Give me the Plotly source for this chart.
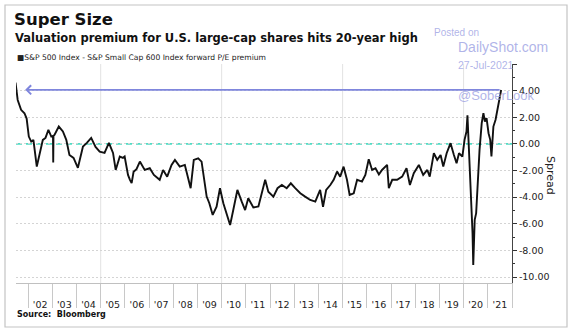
import pandas as pd
import plotly.graph_objects as go

# Forward P/E spread (S&P 500 minus S&P SmallCap 600), sampled as decimal years
t_year = [
    2001.48, 2001.57, 2001.71, 2001.85, 2001.94, 2002.03, 2002.13, 2002.22, 2002.36, 2002.47,
    2002.61, 2002.72, 2002.84, 2002.96, 2003.03, 2003.04, 2003.05, 2003.09, 2003.27, 2003.44,
    2003.58, 2003.71, 2003.88, 2004.06, 2004.16, 2004.27, 2004.43, 2004.61, 2004.79, 2004.96,
    2005.16, 2005.34, 2005.51, 2005.62, 2005.79, 2005.92, 2005.99, 2006.13, 2006.21, 2006.28,
    2006.36, 2006.48, 2006.62, 2006.82, 2007.03, 2007.20, 2007.44, 2007.58, 2007.75, 2007.93,
    2008.07, 2008.27, 2008.48, 2008.62, 2008.72, 2008.85, 2009.03, 2009.17, 2009.27, 2009.38,
    2009.49, 2009.63, 2009.79, 2009.93, 2010.07, 2010.21, 2010.35, 2010.48, 2010.65, 2010.83,
    2010.97, 2011.10, 2011.31, 2011.52, 2011.66, 2011.80, 2011.93, 2012.14, 2012.31, 2012.49,
    2012.69, 2012.86, 2013.04, 2013.25, 2013.45, 2013.66, 2013.87, 2014.07, 2014.19, 2014.32,
    2014.49, 2014.63, 2014.77, 2014.90, 2015.04, 2015.18, 2015.29, 2015.46, 2015.60, 2015.80,
    2015.94, 2016.08, 2016.22, 2016.36, 2016.50, 2016.63, 2016.84, 2016.91, 2017.05, 2017.25,
    2017.46, 2017.64, 2017.78, 2017.94, 2018.15, 2018.33, 2018.50, 2018.60, 2018.77, 2018.91,
    2019.05, 2019.16, 2019.30, 2019.46, 2019.60, 2019.71, 2019.81, 2019.95, 2020.04, 2020.12,
    2020.16, 2020.21, 2020.26, 2020.30, 2020.33, 2020.37, 2020.40, 2020.43, 2020.46, 2020.52,
    2020.58, 2020.66, 2020.75, 2020.82, 2020.88, 2020.95, 2021.03, 2021.10, 2021.15, 2021.23,
    2021.32, 2021.40, 2021.48, 2021.55,
]
spread = [
    4.60, 3.30, 2.56, 2.30, 1.90, 0.55, 0.17, 0.30, -1.70, -0.83,
    0.30, 0.45, 1.05, 0.55, 0.60, -1.40, 0.60, 0.68, 1.30, 0.93,
    0.30, -0.83, -1.05, -1.80, -0.95, -0.20, 0.07, 0.45, -0.23, -0.58,
    -0.68, 0.07, -0.68, -1.96, -0.95, -1.05, -0.95, -2.33, -2.70, -2.95,
    -2.10, -1.90, -1.33, -1.96, -1.83, -2.33, -2.70, -1.96, -2.46, -1.58,
    -1.20, -1.71, -1.58, -2.70, -3.33, -1.20, -1.08, -1.33, -2.46, -3.96,
    -4.46, -5.34, -4.72, -3.33, -4.46, -5.21, -6.09, -4.97, -3.46, -4.34,
    -4.97, -4.09, -4.78, -4.70, -3.71, -2.70, -3.59, -3.96, -3.33, -3.09,
    -3.33, -2.96, -3.33, -3.71, -3.96, -4.21, -4.34, -3.46, -4.72, -3.46,
    -3.09, -2.70, -2.08, -2.46, -1.71, -2.70, -3.84, -3.71, -2.70, -2.83,
    -2.33, -1.15, -1.96, -1.83, -2.30, -1.96, -1.58, -3.33, -2.70, -2.70,
    -2.46, -1.83, -3.09, -2.20, -1.58, -2.33, -1.96, -2.46, -0.70, -1.20,
    -0.83, -1.71, -0.70, 0.05, -0.83, -1.45, -0.70, -0.95, 0.30, 0.93,
    2.15, 0.00, -0.95, -3.46, -4.97, -6.70, -9.10, -6.47, -5.70, -5.20,
    -2.96, -0.45, 1.56, 2.31, 1.68, 1.93, 0.80, 0.30, -0.95, 1.30,
    1.81, 2.56, 3.30, 4.05,
]

# Reference levels
zero_level = 0.0
high_level = 4.06
arrow_tip_year = 2001.88
grid_years = [2005, 2010, 2015, 2020]
y_ticks = [-10, -8, -6, -4, -2, 0, 2, 4, 6]


def to_date(y):
    yr = int(y)
    return pd.Timestamp(year=yr, month=1, day=1) + pd.Timedelta(days=(y - yr) * 365.25)


dates = [to_date(t) for t in t_year]

W, H = 575, 332
L, R, T, B = 16, 63, 64, 49
PW, PH = W - L - R, H - T - B


def px(x):
    return (x - L) / PW


def py(y):
    return (H - B - y) / PH


FONT = "DejaVu Sans"
WM = "rgba(150,155,225,0.75)"

fig = go.Figure()
fig.add_trace(go.Scatter(
    x=dates, y=spread, mode="lines",
    line=dict(color="#111111", width=1.9),
    showlegend=False, hoverinfo="skip",
))

shapes = []
for gy in grid_years:
    shapes.append(dict(type="line", xref="x", yref="paper",
                       x0=pd.Timestamp(year=gy, month=1, day=1),
                       x1=pd.Timestamp(year=gy, month=1, day=1),
                       y0=0, y1=1, line=dict(color="#e2e2e2", width=1), layer="below"))
shapes.append(dict(type="line", xref="paper", yref="y", x0=0, x1=1,
                   y0=zero_level, y1=zero_level,
                   line=dict(color="#4fdcc4", width=1.6, dash="6px,4px"), layer="below"))
# outer frame
shapes.append(dict(type="rect", xref="paper", yref="paper",
                   x0=px(5), x1=px(567), y0=py(327), y1=py(5),
                   line=dict(color="#c4c4c4", width=1.2), fillcolor="rgba(0,0,0,0)"))

annotations = [
    # horizontal arrow marking the current premium level
    dict(x=to_date(arrow_tip_year), y=high_level, ax=dates[-1], ay=high_level,
         xref="x", yref="y", axref="x", ayref="y", text="", showarrow=True,
         arrowhead=4, arrowsize=1.1, arrowwidth=1.6, arrowcolor="#7f86dd"),
    dict(x=px(12), y=py(8), xref="paper", yref="paper", xanchor="left", yanchor="top",
         text="<b>Super Size</b>", showarrow=False,
         font=dict(family=FONT, size=16.5, color="#111")),
    dict(x=px(13), y=py(29), xref="paper", yref="paper", xanchor="left", yanchor="top",
         text="<b>Valuation premium for U.S. large-cap shares hits 20-year high</b>",
         showarrow=False, font=dict(family=FONT, size=11.5, color="#111")),
    dict(x=px(15), y=py(51), xref="paper", yref="paper", xanchor="left", yanchor="top",
         text="■S&P 500 Index - S&P Small Cap 600 Index forward P/E premium",
         showarrow=False, font=dict(family=FONT, size=7.6, color="#222")),
    dict(x=px(15), y=py(308), xref="paper", yref="paper", xanchor="left", yanchor="top",
         text="<b>Source:  Bloomberg</b>", showarrow=False,
         font=dict(family=FONT, size=8, color="#111")),
    dict(x=px(551), y=py(175), xref="paper", yref="paper", xanchor="center", yanchor="middle",
         text="Spread", textangle=90, showarrow=False,
         font=dict(family=FONT, size=11, color="#222")),
    # watermark
    dict(x=px(432), y=py(32), xref="paper", yref="paper", xanchor="left", yanchor="middle",
         text="Posted on", showarrow=False,
         font=dict(family="Liberation Sans", size=10, color=WM)),
    dict(x=px(456), y=py(47), xref="paper", yref="paper", xanchor="left", yanchor="middle",
         text="DailyShot.com", showarrow=False,
         font=dict(family="Liberation Sans", size=14, color=WM)),
    dict(x=px(456), y=py(65), xref="paper", yref="paper", xanchor="left", yanchor="middle",
         text="27-Jul-2021", showarrow=False,
         font=dict(family="Liberation Sans", size=10.5, color=WM)),
    dict(x=px(456), y=py(95), xref="paper", yref="paper", xanchor="left", yanchor="middle",
         text="@SoberLook", showarrow=False,
         font=dict(family="Liberation Sans", size=13, color=WM)),
]

fig.update_layout(
    width=W, height=H,
    margin=dict(l=L, r=R, t=T, b=B),
    paper_bgcolor="white", plot_bgcolor="white",
    shapes=shapes, annotations=annotations,
    xaxis=dict(
        type="date",
        range=[to_date(2001.50), to_date(2022.0)],
        tick0="2001-01-01", dtick="M12", tickformat="'%y",
        ticklabelmode="period",
        ticks="outside", ticklen=24, tickcolor="#c8c8c8", tickwidth=1,
        ticklabelstandoff=-11,
        showgrid=False, zeroline=False,
        showline=True, linecolor="#c0c0c0", linewidth=1,
        tickfont=dict(family=FONT, size=9.5, color="#222"),
        fixedrange=True,
    ),
    yaxis=dict(
        side="right",
        range=[-10.45, 6.0],
        tickvals=y_ticks,
        ticktext=[f"{v:.2f}" if v != 6 else "" for v in y_ticks],
        ticks="outside", ticklen=4, tickcolor="#333", tickwidth=1,
        showline=True, linecolor="#444", linewidth=1,
        showgrid=True, gridcolor="#d4d4d4", griddash="2px,2px", gridwidth=1,
        zeroline=False,
        minor=dict(dtick=1, ticks="outside", ticklen=2, tickcolor="#333", showgrid=False),
        tickfont=dict(family=FONT, size=9.5, color="#222"),
        fixedrange=True,
    ),
)

fig.write_html("out.html")
